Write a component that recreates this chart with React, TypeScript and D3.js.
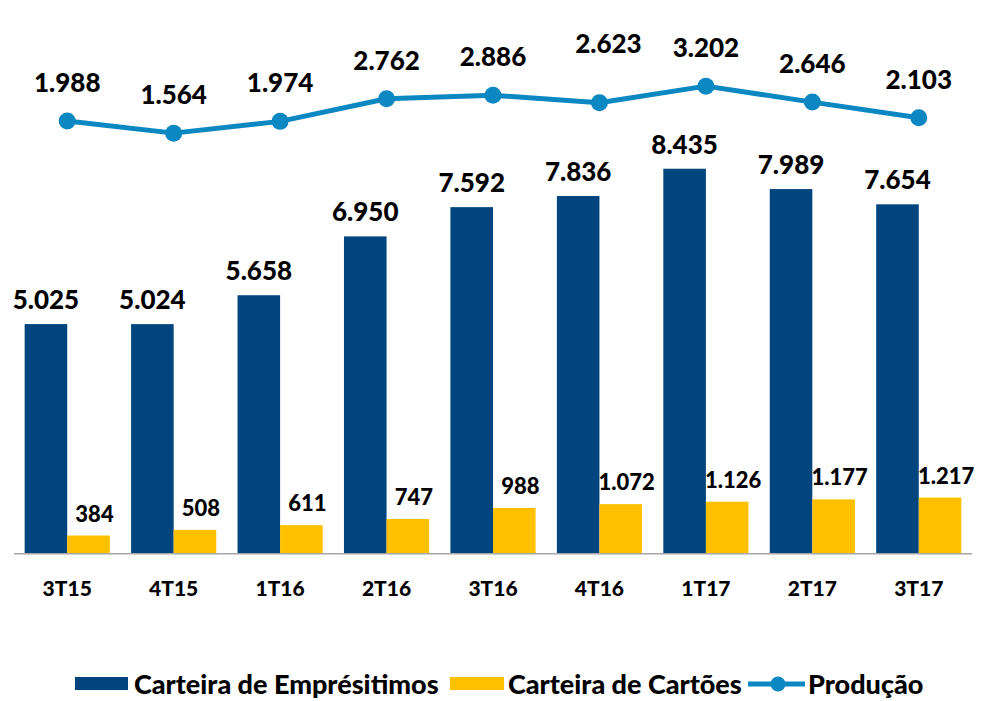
import React from 'react';
import * as d3 from 'd3';

const categories = ['3T15', '4T15', '1T16', '2T16', '3T16', '4T16', '1T17', '2T17', '3T17'];
const emprestimos = [5025, 5024, 5658, 6950, 7592, 7836, 8435, 7989, 7654];
const cartoes = [384, 508, 611, 747, 988, 1072, 1126, 1177, 1217];
const producao = [1988, 1564, 1974, 2762, 2886, 2623, 3202, 2646, 2103];
const seriesNames = ['Carteira de Emprésitimos', 'Carteira de Cartões', 'Produção'];

const BLUE = '#00457D';
const YELLOW = '#FFC000';
const LINE = '#0B87C1';
const FONT = 'Lato, "Open Sans", sans-serif';
const WEIGHT = 900;

const fmt = (v: number) => d3.format(',')(v).replace(/,/g, '.');

// label layout tweaks (avoid overlap in the original)
const lineLabelLift: Record<string, number> = { '4T16': 21 };
const lineLabelShift: Record<string, number> = { '4T16': 9 };

export default function App() {
  const W = 983;
  const H = 701;
  const baseline = 553;

  const x = d3.scaleBand<string>().domain(categories).range([14, 972]).paddingInner(0.2).paddingOuter(0.1);
  const yBar = d3.scaleLinear().domain([0, 9000]).range([baseline, 143]);
  const yLine = d3.scaleLinear().domain([0, 3500]).range([178, 77.6]);
  const bw = x.bandwidth() / 2;
  const cx = (c: string) => (x(c) as number) + x.bandwidth() / 2;

  const line = d3
    .line<number>()
    .x((_, i) => cx(categories[i]))
    .y((d) => yLine(d));

  return (
    <svg width={W} height={H} style={{ position: 'absolute', left: 0, top: 0, background: '#fff' }}>
      <rect width={W} height={H} fill="#fff" />
      {categories.map((c, i) => (
        <g key={c}>
          <rect x={x(c)} y={yBar(emprestimos[i])} width={bw} height={baseline - yBar(emprestimos[i])} fill={BLUE} />
          <rect x={cx(c)} y={yBar(cartoes[i])} width={bw} height={baseline - yBar(cartoes[i])} fill={YELLOW} />
          <text
            x={(x(c) as number) + bw / 2}
            y={yBar(emprestimos[i]) - 15}
            textAnchor="middle"
            fontFamily={FONT}
            fontWeight={WEIGHT}
            fontSize={26}
            fill="#000"
          >
            {fmt(emprestimos[i])}
          </text>
          <text
            x={cx(c) + bw / 2 + 6}
            y={yBar(cartoes[i]) - 14}
            textAnchor="middle"
            fontFamily={FONT}
            fontWeight={WEIGHT}
            fontSize={22}
            fill="#000"
          >
            {fmt(cartoes[i])}
          </text>
          <text x={cx(c)} y={596} textAnchor="middle" fontFamily={FONT} fontWeight={WEIGHT} fontSize={21} fill="#000">
            {c}
          </text>
        </g>
      ))}
      <line x1={14} x2={972} y1={baseline + 0.75} y2={baseline + 0.75} stroke="#A6A6A6" strokeWidth={1.5} />
      <path d={line(producao) || ''} fill="none" stroke={LINE} strokeWidth={5} strokeLinejoin="round" />
      {categories.map((c, i) => (
        <g key={'p' + c}>
          <circle cx={cx(c)} cy={yLine(producao[i])} r={8.5} fill={LINE} />
          <text
            x={cx(c) + (lineLabelShift[c] || 0)}
            y={yLine(producao[i]) - 29 - (lineLabelLift[c] || 0)}
            textAnchor="middle"
            fontFamily={FONT}
            fontWeight={WEIGHT}
            fontSize={26}
            fill="#000"
          >
            {fmt(producao[i])}
          </text>
        </g>
      ))}
      {/* legend */}
      <g fontFamily={FONT} fontWeight={WEIGHT} fontSize={27} fill="#000">
        <rect x={75} y={677} width={53} height={13} fill={BLUE} />
        <text x={134} y={694}>{seriesNames[0]}</text>
        <rect x={450} y={677} width={54} height={13} fill={YELLOW} />
        <text x={508} y={694}>{seriesNames[1]}</text>
        <line x1={748} x2={805} y1={684} y2={684} stroke={LINE} strokeWidth={5} />
        <circle cx={778} cy={684} r={7.5} fill={LINE} />
        <text x={808} y={694}>{seriesNames[2]}</text>
      </g>
    </svg>
  );
}
